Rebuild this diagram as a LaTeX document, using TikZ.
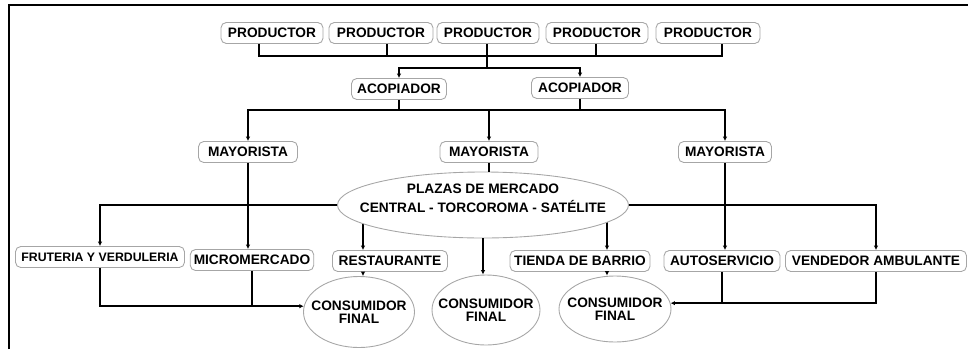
\documentclass[tikz,border=0pt]{standalone}
\usepackage{fontspec}
\setmainfont{Liberation Sans}
\usetikzlibrary{positioning,shapes.geometric,arrows.meta,backgrounds}

\newcommand{\zb}[1]{\makebox[0pt]{#1}}

\begin{document}
\begin{tikzpicture}[x=0.02cm, y=-0.02cm,
  caja/.style={draw=gray!70, line width=0.5pt, rounded corners=3pt, fill=white,
    minimum height=0.42cm, inner xsep=2pt, inner ysep=1pt,
    font=\fontsize{7.8}{9}\selectfont\bfseries},
  elipse/.style={draw=gray!70, line width=0.5pt, ellipse, fill=white, align=center,
    inner sep=0pt, font=\fontsize{7.8}{7.4}\selectfont\bfseries},
  linea/.style={line width=1pt},
  flecha/.style={line width=1pt, -{Latex[length=2.5pt,width=2.5pt]}}]

  \useasboundingbox (0,0) rectangle (968,349);
  \draw[line width=1pt] (9,349) -- (9,5) -- (968,5);

  % productores
  \foreach \n/\x/\w in {1/272/102, 2/381/104, 3/488/102, 4/597/102, 5/708/104}
    \node[caja, minimum width=\w*0.02cm] (p\n) at (\x,33) {PRODUCTOR};

  % acopiadores y mayoristas
  \node[caja, minimum width=95*0.02cm] (a1) at (399,89) {ACOPIADOR};
  \node[caja, minimum width=97*0.02cm] (a2) at (580,88) {ACOPIADOR};
  \node[caja, minimum width=99*0.02cm] (m1) at (248,152) {MAYORISTA};
  \node[caja, minimum width=98*0.02cm] (m2) at (489,152) {MAYORISTA};
  \node[caja, minimum width=93*0.02cm] (m3) at (725,152) {MAYORISTA};

  \node[elipse, minimum width=291*0.02cm, minimum height=66*0.02cm,
    font=\fontsize{7.8}{10.6}\selectfont\bfseries, text depth=8pt]
    (plaza) at (483,205) {\zb{PLAZAS DE MERCADO}\\\zb{CENTRAL - TORCOROMA - SAT\'ELITE}};

  % minoristas
  \node[caja, minimum width=169*0.02cm, font=\fontsize{7}{9}\selectfont\bfseries]
    (fr) at (100,257) {FRUTERIA Y VERDULERIA};
  \node[caja, minimum width=120*0.02cm] (mi) at (252,260) {MICROMERCADO};
  \node[caja, minimum width=115*0.02cm] (re) at (390,261) {RESTAURANTE};
  \node[caja, minimum width=140*0.02cm] (ti) at (580,261) {TIENDA DE BARRIO};
  \node[caja, minimum width=116*0.02cm] (au) at (722,261) {AUTOSERVICIO};
  \node[caja, minimum width=181*0.02cm] (ve) at (876,261) {VENDEDOR AMBULANTE};

  % consumidores
  \node[elipse, minimum width=111*0.02cm, minimum height=71*0.02cm] (cf1) at (359,312) {\zb{CONSUMIDOR}\\\zb{FINAL}};
  \node[elipse, minimum width=108*0.02cm, minimum height=70*0.02cm] (cf2) at (486,310) {\zb{CONSUMIDOR}\\\zb{FINAL}};
  \node[elipse, minimum width=112*0.02cm, minimum height=66*0.02cm] (cf3) at (615,309) {\zb{CONSUMIDOR}\\\zb{FINAL}};

  % productores -> acopiadores
  \draw[linea] ([xshift=-0.26cm]p1.south) -- ++(0,12) -| ([xshift=0.28cm]p5.south);
  \foreach \n/\d in {2/0.12,4/-0.02}
    \draw[linea] ([xshift=\d cm]p\n.south) -- ++(0,12);
  \draw[linea] ([xshift=-0.02cm]p3.south) -- ++(0,24) coordinate (ra);
  \draw[flecha] (ra) -| (a1);
  \draw[flecha] (ra) -| (a2);

  % acopiadores -> mayoristas
  \draw[linea] (a1.south) -- ++(0,10) coordinate (rm);
  \draw[linea] (a2.south) -- (a2.south |- rm);
  \draw[flecha] (rm) -| (m1);
  \draw[flecha] (rm) -| (m3);
  \draw[flecha] (rm -| m2) -- (m2);

  % mayoristas -> plazas y minoristas
  \draw[linea] (m2.south) -- (m2.south |- plaza.north);
  \draw[flecha] (m1.south) -- (m1.south |- mi.north);
  \draw[flecha] (m3.south) -- (m3.south |- au.north);
  \draw[flecha] (plaza.west) -| (fr);
  \draw[flecha] (plaza.east) -| (ve);
  \begin{scope}[on background layer]
    \draw[flecha] ([xshift=0.08cm]cf1 |- plaza.center) -- ([xshift=0.08cm]cf1 |- re.north);
    \draw[flecha] ([xshift=-0.16cm]cf3 |- plaza.center) -- ([xshift=-0.16cm]cf3 |- ti.north);
  \end{scope}
  \draw[flecha] (plaza.south) -- (plaza.south |- cf2.north);

  % minoristas -> consumidor final
  \draw[flecha] ([xshift=0.08cm]cf1 |- re.south) -- ([xshift=0.08cm]cf1.north);
  \draw[flecha] ([xshift=-0.16cm]cf3 |- ti.south) -- ([xshift=-0.16cm]cf3.north);
  \draw[flecha] (fr.south) |- (cf1.174);
  \draw[linea] (mi.south) -- (mi.south |- cf1.174);
  \draw[flecha] (ve.south) |- (cf3.6);
  \draw[linea] (au.south) -- (au.south |- cf3.6);
\end{tikzpicture}
\end{document}
